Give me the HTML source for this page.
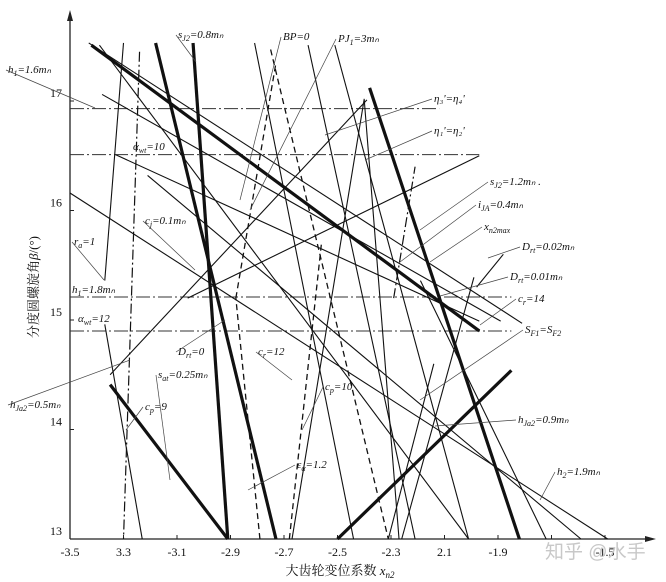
<!DOCTYPE html>
<html><head><meta charset="utf-8">
<style>
html,body{margin:0;padding:0;background:#fff;}
svg{display:block;}
text{font-family:"Liberation Serif","Noto Serif CJK SC",serif;fill:#111;}
.lab{font-style:italic;font-size:11px;}
.tick{font-size:12px;}
</style></head>
<body>
<svg id="chart" width="666" height="582" viewBox="0 0 666 582">
<g id="axes"></g>
<g id="marks"></g>
<g id="labels"></g>
<text x="340" y="575" text-anchor="middle" style="font-size:13px">大齿轮变位系数 <tspan font-style="italic">x</tspan><tspan font-style="italic" font-size="9" dy="3">n2</tspan></text>
<text transform="translate(38,287) rotate(-90)" text-anchor="middle" style="font-size:13px">分度圆螺旋角<tspan font-style="italic">β</tspan>/(°)</text>
<text x="545" y="558" style="font-size:19px;fill:#c8c8c8;font-family:'Liberation Sans','Noto Sans CJK SC',sans-serif">知乎 @水手</text>
</svg>
<script>
const xTicks = [-3.5,-3.3,-3.1,-2.9,-2.7,-2.5,-2.3,-2.1,-1.9,-1.7,-1.5];
const xTickLabels = ["-3.5","3.3","-3.1","-2.9","-2.7","-2.5","-2.3","2.1","-1.9","","-1.5"];
const yTicks = [13,14,15,16,17];
// thick solid lines [x1,b1,x2,b2]
const thickLines = [
 [-3.42,17.51,-1.97,14.90],
 [-3.18,17.53,-2.73,13.00],
 [-3.04,17.53,-2.91,13.00],
 [-2.38,17.12,-1.82,13.00],
 [-2.50,13.00,-1.85,14.54],
 [-3.35,14.41,-2.91,13.00]
];
const thinLines = [
 [-3.43,17.53,-1.81,14.97],
 [-3.39,17.51,-2.01,13.00],
 [-3.38,17.06,-1.89,14.99],
 [-3.33,16.51,-1.97,14.99],
 [-3.50,16.16,-1.49,13.00],
 [-3.21,16.32,-1.59,13.00],
 [-3.30,17.53,-3.37,15.36],
 [-3.37,14.96,-3.23,13.00],
 [-2.81,17.53,-2.44,13.00],
 [-2.61,17.51,-2.21,13.00],
 [-2.51,17.51,-2.01,13.00],
 [-2.40,17.01,-2.27,13.00],
 [-3.35,14.50,-2.39,17.01],
 [-3.06,15.20,-1.97,16.50],
 [-2.26,13.00,-1.99,15.39],
 [-2.67,13.00,-2.40,17.02],
 [-2.19,15.36,-1.72,13.00],
 [-2.31,13.00,-2.14,14.60],
 [-1.98,15.30,-1.88,15.60]
];
const dashedLines = [
 [-2.79,13.00,-2.88,15.20],
 [-2.88,15.20,-2.73,17.35],
 [-2.75,17.47,-2.31,13.00],
 [-2.68,13.00,-2.56,15.70]
];
const dashDotLines = [
 [-3.24,17.45,-3.30,13.00],
 [-2.29,15.20,-2.21,16.40]
];
const hBeta = [16.93,16.51,15.21,14.90];
const hEnd = [-2.12,-1.97,-1.85,-1.85];

const NS="http://www.w3.org/2000/svg";
const X0=70, XU=267.5, YB=539, YU=109.5;
function sx(v){return X0+(v+3.5)*XU;}
function sy(b){return YB-(b-13)*YU;}
function mk(tag,attrs,parent){const e=document.createElementNS(NS,tag);for(const k in attrs)e.setAttribute(k,attrs[k]);parent.appendChild(e);return e;}
const axes=document.getElementById('axes'), marks=document.getElementById('marks'), labels=document.getElementById('labels');

let e=mk('line',{x1:sx(-3.5),y1:YB,x2:648,y2:YB,stroke:'#222','stroke-width':1.3},axes);


e=mk('polygon',{points:'656,539 645,536 645,542',fill:'#222'},axes);


e=mk('line',{x1:sx(-3.5),y1:YB,x2:sx(-3.5),y2:18,stroke:'#222','stroke-width':1.3},axes);


e=mk('polygon',{points:'70,10 67,21 73,21',fill:'#222'},axes);


xTicks.forEach((v,i)=>{
 const t=mk('line',{x1:sx(v),y1:YB,x2:sx(v),y2:YB-4,stroke:'#222'},axes);
 
 
 const l=mk('text',{x:sx(v),y:YB+17,'text-anchor':'middle',class:'tick'},axes);
 l.textContent=xTickLabels[i];
 
 
});
yTicks.forEach(v=>{
 const t=mk('line',{x1:sx(-3.5),y1:sy(v),x2:sx(-3.5)+4,y2:sy(v),stroke:'#222'},axes);
 
 
 const l=mk('text',{x:sx(-3.5)-8,y:sy(v)-4,'text-anchor':'end',class:'tick'},axes);
 l.textContent=String(v);
 
 
});
function seg(arr,w,dash,name){
 arr.forEach(s=>{
  const a={x1:sx(s[0]),y1:sy(s[1]),x2:sx(s[2]),y2:sy(s[3]),stroke:'#111','stroke-width':w};
  if(dash)a['stroke-dasharray']=dash;
  const l=mk('line',a,marks);
  
  
 });
}
hBeta.forEach((b,i)=>{
 const l=mk('line',{x1:sx(-3.5),y1:sy(b),x2:sx(hEnd[i]),y2:sy(b),stroke:'#333','stroke-width':1,'stroke-dasharray':'14 3 2 3'},marks);
 
 
});
seg(thinLines,1.1,null,'constraint-line');
seg(dashedLines,1.3,'6 4','dashed-constraint-line');
seg(dashDotLines,1.2,'10 3 2 3','dashdot-constraint-line');
seg(thickLines,3.2,null,'thick-constraint-line');

// [x, y, main, subscript, rest, leaderX, leaderY]
const labs=[
 [8,73,'h','1','=1.6mₙ',95,108],[178,38,'s','J2','=0.8mₙ',196,62],[283,40,'BP=0','','',240,200],[338,42,'PJ','1','=3mₙ',250,210],
 [434,102,"η₃'=η₄'",'','',325,135],[434,134,"η₁'=η₂'",'','',365,160],[490,185,'s','J2','=1.2mₙ .',420,230],
 [478,208,'i','JA','=0.4mₙ',400,262],[484,230,'x','n2max','',430,262],[522,250,'D','rt','=0.02mₙ',488,258],
 [510,280,'D','rt','=0.01mₙ',440,296],[518,302,'c','r','=14',480,325],[525,333,'S','F1','=S',420,400],
 [133,150,'α','wt','=10',null,null],[145,224,'c','j','=0.1mₙ',195,270],[74,245,'r','a','=1',104,280],
 [72,293,'h','1','=1.8mₙ',null,null],[78,322,'α','wt','=12',null,null],[178,355,'D','rt','=0',225,320],
 [258,355,'c','r','=12',292,380],[158,378,'s','at','=0.25mₙ',170,480],[10,408,'h','Ja2','=0.5mₙ',130,360],
 [325,390,'c','p','=10',302,430],[145,410,'c','p','=9',126,430],[518,423,'h','Ja2','=0.9mₙ',435,426],
 [297,468,'ε','α','=1.2',248,490],[557,475,'h','2','=1.9mₙ',540,500]
];
labs.forEach(L=>{
 const t=mk('text',{x:L[0],y:L[1],class:'lab'},labels);
 t.appendChild(document.createTextNode(L[2]));
 if(L[3]){const s=mk('tspan',{'font-size':8,dy:3},t);s.textContent=L[3];}
 if(L[4]){const r=mk('tspan',{dy:L[3]?-3:0},t);r.textContent=L[4];}
 if(L[2]==='S'&&L[3]==='F1'){const s2=mk('tspan',{'font-size':8,dy:3},t);s2.textContent='F2';}
 
 
 if(L[5]!==null){
  const l=mk('line',{x1:L[0]-2,y1:L[1]-3,x2:L[5],y2:L[6],stroke:'#444','stroke-width':0.7},labels);
  
  
 }
});
</script>
</body></html>
